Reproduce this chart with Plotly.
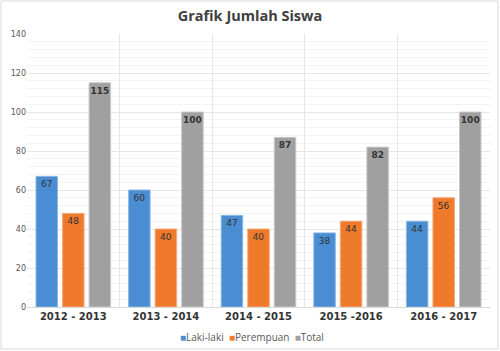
import plotly.graph_objects as go

categories = ["2012 - 2013", "2013 - 2014", "2014 - 2015", "2015 -2016", "2016 - 2017"]
laki = [67, 60, 47, 38, 44]
perempuan = [48, 40, 40, 44, 56]
total = [115, 100, 87, 82, 100]

W, H = 500, 351
ml, mr, mt, mb = 27, 10, 34, 44
pw, ph = W - ml - mr, H - mt - mb

fig = go.Figure()
series = [
    ("Laki-laki", laki, "#4A8DD3", "#8DB8E6", False),
    ("Perempuan", perempuan, "#EF7A2C", "#F5A978", False),
    ("Total", total, "#A0A0A0", "#C8C8C8", True),
]
for name, vals, col, lcol, bold in series:
    fig.add_trace(go.Bar(
        name=name, x=categories, y=vals, showlegend=False,
        marker=dict(color=col, line=dict(color=lcol, width=1)),
        text=[f"<b>{v}</b>" if bold else str(v) for v in vals],
        textposition="inside", insidetextanchor="end", textangle=0,
        constraintext="none",
        textfont=dict(size=9, color="#333333", family="DejaVu Sans"),
    ))

legend_text = "&nbsp;&nbsp;".join(
    f"<span style='color:{col}'>■</span>{name}" for name, _, col, _, _ in series
)

fig.update_layout(
    width=W, height=H,
    margin=dict(l=ml, r=mr, t=mt, b=mb, autoexpand=False),
    paper_bgcolor="white", plot_bgcolor="white",
    barmode="group", bargap=0.14, bargroupgap=0.19,
    title=dict(text="<b>Grafik Jumlah Siswa</b>", x=0.5, xanchor="center",
               y=1 - 16 / H, yanchor="middle",
               font=dict(size=14.5, color="#404040", family="Open Sans")),
    annotations=[dict(text=legend_text, xref="paper", yref="paper",
                      x=(252 - ml) / pw, xanchor="center",
                      y=-(337 - mt - ph) / ph, yanchor="middle", showarrow=False,
                      font=dict(size=10, color="#595959", family="Open Sans"))],
    shapes=[dict(type="rect", xref="paper", yref="paper",
                 x0=-(ml - 1) / pw, x1=1 + (mr - 2) / pw,
                 y0=-(mb - 2) / ph, y1=1 + (mt - 1) / ph,
                 line=dict(color="#D9D9D9", width=1))],
)
fig.update_xaxes(
    tickson="boundaries", showgrid=True, gridcolor="#E6E6E6", gridwidth=1,
    showline=True, linecolor="#D9D9D9", mirror=False, ticks="",
    tickfont=dict(size=10, color="#333333", family="DejaVu Sans"),
    tickprefix="<b>", ticksuffix="</b>",
)
fig.update_yaxes(
    range=[0, 140], dtick=20, showgrid=True, gridcolor="#E6E6E6",
    minor=dict(dtick=4, showgrid=True, gridcolor="#F3F3F3"),
    zeroline=False, showline=False, ticks="",
    tickfont=dict(size=8, color="#595959", family="DejaVu Sans"),
)
fig.write_html("out.html")
